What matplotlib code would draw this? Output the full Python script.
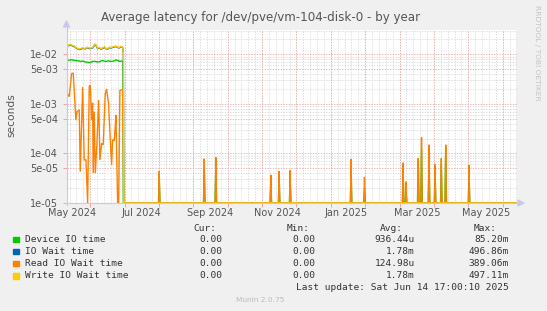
import numpy as np
import matplotlib
matplotlib.use("Agg")
import matplotlib.pyplot as plt
from matplotlib.lines import Line2D
from matplotlib.patches import Rectangle, Polygon
from matplotlib.transforms import blended_transform_factory

W, H = 547, 311
TITLE = "Average latency for /dev/pve/vm-104-disk-0 - by year"

# x axis: days from left edge of the plot (~26 Apr 2024)
month_ticks = [4.4, 65.1, 126.2, 185.1, 245.4, 307.8, 368.5]
month_labels = ["May 2024", "Jul 2024", "Sep 2024", "Nov 2024",
                "Jan 2025", "Mar 2025", "May 2025"]
ytick_vals = [1e-5, 5e-5, 1e-4, 5e-4, 1e-3, 5e-3, 1e-2]
ytick_labels = ["1e-05", "5e-05", "1e-04", "5e-04", "1e-03", "5e-03", "1e-02"]

# ---- early period (first ~50 days) ----
device_days = [0.6, 2.5, 4.2, 6.0, 8.0, 10.0, 12.0, 14.0, 16.5, 19.0, 20.0, 22.5,
               25.0, 27.0, 28.5, 31.0, 33.0, 34.5, 36.5, 38.5, 41.0, 43.0, 45.0,
               46.5, 48.5, 49.3, 49.6]
device_vals = [7.5e-3, 7.7e-3, 7.8e-3, 7.6e-3, 7.5e-3, 7.4e-3, 7.2e-3, 7.3e-3, 7.0e-3,
               6.9e-3, 6.8e-3, 7.2e-3, 7.2e-3, 7.0e-3, 7.1e-3, 7.5e-3, 7.3e-3, 7.2e-3,
               7.4e-3, 7.2e-3, 7.3e-3, 7.7e-3, 7.5e-3, 7.2e-3, 7.3e-3, 7.1e-3, 0.0]

write_days = [0.6, 1.8, 3.5, 4.8, 6.4, 8.5, 10.8, 12.3, 13.2, 16.1, 18.2, 19.8, 22.6,
              23.7, 24.9, 27.0, 28.6, 29.9, 31.7, 33.0, 34.3, 35.8, 37.4, 38.7, 40.7,
              43.1, 44.6, 46.0, 47.5, 49.0, 49.6, 50.1]
write_vals = [1.52e-2, 1.55e-2, 1.60e-2, 1.50e-2, 1.47e-2, 1.35e-2, 1.28e-2, 1.30e-2,
              1.35e-2, 1.32e-2, 1.40e-2, 1.33e-2, 1.38e-2, 1.50e-2, 1.65e-2, 1.33e-2,
              1.38e-2, 1.30e-2, 1.36e-2, 1.42e-2, 1.33e-2, 1.30e-2, 1.40e-2, 1.37e-2,
              1.42e-2, 1.47e-2, 1.40e-2, 1.38e-2, 1.45e-2, 1.40e-2, 1.05e-2, 0.0]

iowait_days = [0.6, 1.8, 3.5, 4.8, 6.4, 8.5, 10.8, 12.3, 13.2, 16.1, 18.2, 19.8, 22.6,
               23.7, 24.9, 27.0, 28.6, 29.9, 31.7, 33.0, 34.3, 35.8, 37.4, 38.7, 40.7,
               43.1, 44.6, 46.0, 47.5, 49.0, 49.6, 50.1]
iowait_vals = [1.47e-2, 1.52e-2, 1.56e-2, 1.47e-2, 1.44e-2, 1.32e-2, 1.25e-2, 1.27e-2,
               1.32e-2, 1.29e-2, 1.37e-2, 1.30e-2, 1.35e-2, 1.46e-2, 1.60e-2, 1.30e-2,
               1.35e-2, 1.27e-2, 1.33e-2, 1.39e-2, 1.30e-2, 1.27e-2, 1.37e-2, 1.34e-2,
               1.39e-2, 1.44e-2, 1.37e-2, 1.35e-2, 1.42e-2, 1.38e-2, 1.02e-2, 0.0]

read_days = [0.6, 2.0, 4.1, 5.5, 7.9, 8.8, 10.8, 11.7, 13.8, 15.2, 16.7, 18.2, 19.6,
             20.5, 21.7, 22.6, 23.1, 24.0, 24.9, 26.4, 27.9, 29.0, 30.5, 31.9, 33.7,
             34.9, 36.7, 38.1, 39.3, 40.2, 41.6, 42.5, 43.1, 44.6, 45.5, 46.6, 49.0, 49.9]
read_vals = [1.6e-3, 1.4e-3, 4.1e-3, 4.2e-3, 4.7e-4, 7.0e-4, 7.6e-4, 4.3e-5, 2.2e-3,
             7.4e-5, 7.4e-5, 0.0, 2.2e-3, 2.4e-3, 4.7e-4, 1.05e-3, 4.0e-5, 7.0e-4,
             4.0e-5, 1.6e-4, 1.2e-3, 7.4e-5, 1.6e-4, 1.5e-4, 1.6e-3, 2.0e-3, 9.5e-4,
             1.9e-4, 5.9e-5, 1.9e-4, 1.8e-4, 3.5e-4, 6.0e-4, 0.0, 0.0, 1.9e-3, 1.9e-3, 0.0]

# ---- later isolated spikes ----
spike_days = [81.2, 120.8, 131.0, 179.4, 186.7, 196.4, 250.0, 261.8, 295.8, 298.4,
              309.1, 312.0, 318.6, 323.9, 329.4, 333.3, 353.8]
spike_read = [4.4e-5, 7.8e-5, 8.4e-5, 3.7e-5, 4.4e-5, 4.6e-5, 7.7e-5, 3.3e-5, 6.5e-5,
              2.7e-5, 8.0e-5, 2.1e-4, 1.5e-4, 6.0e-5, 8.0e-5, 1.5e-4, 5.9e-5]
spike_device = [3.0e-5, 5.0e-5, 5.5e-5, 2.5e-5, 3.0e-5, 3.0e-5, 5.0e-5, 2.0e-5, 4.0e-5,
                1.8e-5, 7.0e-5, 1.2e-4, 9.0e-5, 4.0e-5, 6.0e-5, 1.3e-4, 4.0e-5]

END_DAY = 396.0
YMIN, YMAX = 1e-5, 3.1e-2

colors = {"device": "#00CC00", "iowait": "#0066B3", "read": "#FF8000", "write": "#FFCC00"}


def with_spikes(days, vals, sdays, svals, half=0.55):
    d = list(days)
    v = list(vals)
    for sd, sv in zip(sdays, svals):
        d += [sd - half, sd, sd + half]
        v += [0.0, sv, 0.0]
    d.append(END_DAY)
    v.append(0.0)
    return np.array(d), np.array(v)


def fx(px):
    return px / W


def fy(py):
    return 1 - py / H


fig = plt.figure(figsize=(W / 100, H / 100), dpi=100, facecolor="#F0F0F0")
L, R, T, B = 66.5, 517.0, 30.0, 203.0
ax = fig.add_axes([fx(L), fy(B), (R - L) / W, (B - T) / H], facecolor="white")
ax.set_yscale("log")
ax.set_xlim(-0.4, END_DAY)
ax.set_ylim(YMIN, YMAX)

# grid
major_x = np.arange(20.4, END_DAY, 30.25)
minor_x = np.arange(20.4 - 3 * 6.05, END_DAY, 6.05)
grey = "#d8d8d8"
red = "#eaa8a8"
dots = (0, (1.6, 1.6))
gkw = dict(lw=0.6, ls=dots)
for x in minor_x:
    ax.axvline(x, color=grey, zorder=0.5, **gkw)
for dec in [1e-5, 1e-4, 1e-3, 1e-2]:
    for m in [2, 3, 4, 6, 7, 8, 9]:
        y = dec * m
        if y < YMAX:
            ax.axhline(y, color=grey, zorder=0.5, **gkw)
for x in major_x:
    ax.axvline(x, color=red, zorder=0.6, **gkw)
for y in ytick_vals:
    ax.axhline(y, color=red, zorder=0.6, **gkw)

# data
dd, dv = with_spikes(device_days, device_vals, spike_days, spike_device, half=0.7)
bd, bv = with_spikes(iowait_days, iowait_vals, [], [])
rd, rv = with_spikes(read_days, read_vals, spike_days, spike_read, half=0.5)
wd, wv = with_spikes(write_days, write_vals, [], [])
for d, v, c in [(dd, dv, colors["device"]), (bd, bv, colors["iowait"]),
                (rd, rv, colors["read"]), (wd, wv, colors["write"])]:
    ax.plot(d, np.clip(v, YMIN, None), color=c, lw=1.0, zorder=2, solid_joinstyle="miter")

# axes styling
for s in ax.spines.values():
    s.set_visible(False)
ax.set_yticks(ytick_vals)
ax.set_yticklabels(ytick_labels)
ax.minorticks_off()
ax.set_xticks(major_x)
ax.set_xticklabels([])
ax.tick_params(axis="both", which="major", length=3, width=0.7, color="#e6a6a6",
               labelsize=7, labelcolor="#555555", pad=3)
trans = blended_transform_factory(ax.transData, fig.transFigure)
for x, lab in zip(month_ticks, month_labels):
    ax.text(x, fy(212.5), lab, transform=trans, ha="center", va="center",
            fontsize=7, color="#555555", clip_on=False)

# axis lines with arrows
axc = "#c8c8ee"
fig.add_artist(Line2D([fx(L), fx(L)], [fy(B + 2), fy(24)], color=axc, lw=0.8,
                      transform=fig.transFigure))
fig.add_artist(Line2D([fx(L - 2), fx(519)], [fy(B), fy(B)], color=axc, lw=0.8,
                      transform=fig.transFigure))
fig.add_artist(Polygon([[fx(L - 3), fy(27)], [fx(L + 3), fy(27)], [fx(L), fy(21)]],
                       closed=True, color=axc, transform=fig.transFigure))
fig.add_artist(Polygon([[fx(518), fy(B - 3)], [fx(518), fy(B + 3)], [fx(524), fy(B)]],
                       closed=True, color=axc, transform=fig.transFigure))

# texts
fig.text(fx(261), fy(18), TITLE, ha="center", va="center", fontsize=8.6, color="#555555")
fig.text(fx(11), fy(115), "seconds", rotation=90, ha="center", va="center",
         fontsize=7.7, color="#555555")
fig.text(fx(537), fy(5), "RRDTOOL / TOBI OETIKER", rotation=270, ha="center", va="top",
         fontsize=5.4, color="#c4c4c4")

# legend
mono = "DejaVu Sans Mono"
lfs = 6.8
tc = "#333333"
names = ["Device IO time", "IO Wait time", "Read IO Wait time", "Write IO Wait time"]
cur_vals = ["0.00", "0.00", "0.00", "0.00"]
min_vals = ["0.00", "0.00", "0.00", "0.00"]
avg_vals = ["936.44u", "1.78m", "124.98u", "1.78m"]
max_vals = ["85.20m", "496.86m", "389.06m", "497.11m"]
series_colors = [colors["device"], colors["iowait"], colors["read"], colors["write"]]

hy = 228.3
for txt, xr in [("Cur:", 216), ("Min:", 310), ("Avg:", 403), ("Max:", 497)]:
    fig.text(fx(xr), fy(hy), txt, ha="right", va="center", fontsize=lfs, family=mono, color=tc)
rows_y = [239.5, 251.5, 263.6, 275.7]
for i, y in enumerate(rows_y):
    fig.add_artist(Rectangle((fx(13.3), fy(y + 2.8)), 5.5 / W, 5.5 / H,
                             color=series_colors[i], transform=fig.transFigure))
    fig.text(fx(25), fy(y), names[i], ha="left", va="center", fontsize=lfs, family=mono, color=tc)
    fig.text(fx(222), fy(y), cur_vals[i], ha="right", va="center", fontsize=lfs, family=mono, color=tc)
    fig.text(fx(315), fy(y), min_vals[i], ha="right", va="center", fontsize=lfs, family=mono, color=tc)
    fig.text(fx(415), fy(y), avg_vals[i], ha="right", va="center", fontsize=lfs, family=mono, color=tc)
    fig.text(fx(509), fy(y), max_vals[i], ha="right", va="center", fontsize=lfs, family=mono, color=tc)
fig.text(fx(509), fy(287.5), "Last update: Sat Jun 14 17:00:10 2025", ha="right", va="center",
         fontsize=lfs, family=mono, color=tc)
fig.text(fx(260.5), fy(300.3), "Munin 2.0.75", ha="center", va="center", fontsize=5.3,
         color="#bbbbbb")

fig.savefig("out.png", dpi=100, facecolor=fig.get_facecolor())
